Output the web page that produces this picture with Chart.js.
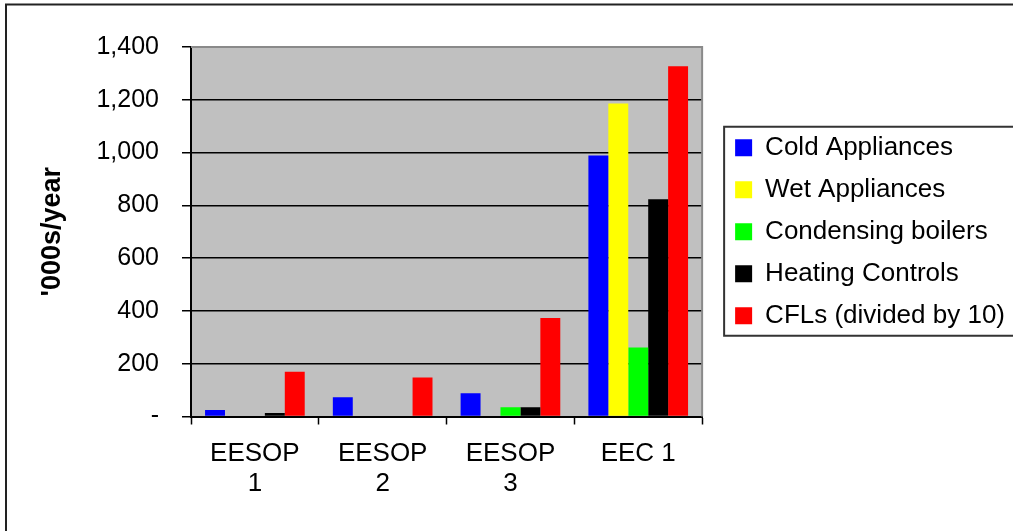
<!DOCTYPE html>
<html>
<head>
<meta charset="utf-8">
<script src="https://cdn.jsdelivr.net/npm/chart.js@4/dist/chart.umd.min.js"></script>
<style>
  html, body { margin: 0; padding: 0; background: #ffffff; }
  #wrap { width: 1013px; height: 531px; }
</style>
</head>
<body>
<div id="wrap"><canvas id="c" width="1013" height="531"></canvas></div>
<script>
// Programme categories (two-line tick labels)
const categories = [["EESOP", "1"], ["EESOP", "2"], ["EESOP", "3"], ["EEC 1"]];

// Measures installed per programme, '000s/year (CFLs shown divided by 10)
const coldAppliances     = [25, 73, 88, 989];
const wetAppliances      = [null, null, null, 1186];
const condensingBoilers  = [null, null, 35, 261];
const heatingControls    = [13, null, 35, 823];
const cfls               = [170, 148, 373, 1327];

const seriesNames  = ["Cold Appliances", "Wet Appliances", "Condensing boilers", "Heating Controls", "CFLs (divided by 10)"];
const seriesColors = ["#0000ff", "#ffff00", "#00ff00", "#000000", "#ff0000"];

const yTicks = [0, 200, 400, 600, 800, 1000, 1200, 1400];

const FONT = "'Liberation Sans', Arial, sans-serif";

// Grey plot background with a grey frame on the top and right sides
const plotBackground = {
  id: 'plotBackground',
  beforeDraw(chart) {
    const { ctx, chartArea: a } = chart;
    ctx.save();
    ctx.fillStyle = '#c0c0c0';
    ctx.fillRect(a.left, a.top, a.right - a.left, a.bottom - a.top);
    ctx.restore();
  },
  beforeDatasetsDraw(chart) {
    const { ctx, chartArea: a } = chart;
    ctx.save();
    ctx.strokeStyle = '#8a8a8a';
    ctx.lineWidth = 2;
    ctx.beginPath();
    ctx.moveTo(a.left, a.top);
    ctx.lineTo(a.right, a.top);
    ctx.lineTo(a.right, a.bottom);
    ctx.stroke();
    ctx.restore();
  }
};

// Nudge the legend right and frame it; also draw the outer frame of the figure
const legendFrame = {
  id: 'legendFrame',
  afterLayout(chart) {
    const lg = chart.legend;
    if (lg) { lg.left += 17; lg.right += 17; }
  },
  afterDraw(chart) {
    const { ctx } = chart;
    const hb = chart.legend.legendHitBoxes;
    ctx.save();
    ctx.strokeStyle = '#333333';
    ctx.lineWidth = 2;
    if (hb && hb.length) {
      const first = hb[0], last = hb[hb.length - 1];
      const left = first.left - 11;
      const top = first.top - 8;
      const bottom = last.top + last.height + 7;
      ctx.beginPath();
      ctx.moveTo(1020, top);
      ctx.lineTo(left, top);
      ctx.lineTo(left, bottom);
      ctx.lineTo(1020, bottom);
      ctx.stroke();
    }
    // outer figure frame (top and left edges)
    ctx.strokeStyle = '#222222';
    ctx.beginPath();
    ctx.moveTo(6, 540);
    ctx.lineTo(6, 4.5);
    ctx.lineTo(1020, 4.5);
    ctx.stroke();
    ctx.restore();
  }
};

const datasets = [coldAppliances, wetAppliances, condensingBoilers, heatingControls, cfls].map((vals, i) => ({
  label: seriesNames[i],
  data: vals,
  backgroundColor: seriesColors[i],
  borderWidth: 0,
  categoryPercentage: 0.78,
  barPercentage: 1.0
}));

Chart.defaults.font.family = FONT;
Chart.defaults.color = '#000000';

new Chart(document.getElementById('c'), {
  type: 'bar',
  data: { labels: categories, datasets },
  plugins: [plotBackground, legendFrame],
  options: {
    responsive: false,
    devicePixelRatio: 1,
    animation: false,
    layout: { padding: { left: 8, top: 47, right: 15, bottom: 30.5 } },
    plugins: {
      tooltip: { enabled: false },
      legend: {
        position: 'right',
        align: 'center',
        fullSize: false,
        maxWidth: 320,
        labels: {
          boxWidth: 17,
          boxHeight: 17,
          padding: 16,
          color: '#000000',
          font: { size: 26, family: FONT }
        }
      }
    },
    scales: {
      x: {
        offset: true,
        grid: {
          offset: true,
          drawOnChartArea: false,
          drawTicks: true,
          tickLength: 8,
          tickColor: '#000000',
          tickWidth: 1.5
        },
        border: { display: true, color: '#000000', width: 2 },
        ticks: {
          padding: 14,
          maxRotation: 0,
          autoSkip: false,
          color: '#000000',
          font: { size: 26, family: FONT, lineHeight: 1.15 }
        },
        afterFit(scale) { scale.height = 84; }
      },
      y: {
        min: 0,
        max: 1400,
        afterBuildTicks(scale) { scale.ticks = yTicks.map(v => ({ value: v })); },
        grid: {
          color: (c) => (c.tick && c.tick.value === 1400) ? '#8a8a8a' : '#000000',
          lineWidth: 1.5,
          drawTicks: true,
          tickLength: 9,
          tickColor: '#000000',
          tickWidth: 1.5
        },
        border: { display: true, color: '#000000', width: 2 },
        ticks: {
          padding: 23,
          color: '#000000',
          font: { size: 25, family: FONT },
          callback: (v) => v === 0 ? '-' : Number(v).toLocaleString('en-US')
        },
        title: {
          display: true,
          text: "'000s/year",
          color: '#000000',
          font: { size: 27, weight: 'bold', family: FONT },
          padding: { top: 28, bottom: 0 }
        },
        afterFit(scale) { scale.width = 183; }
      }
    }
  }
});
</script>
</body>
</html>
